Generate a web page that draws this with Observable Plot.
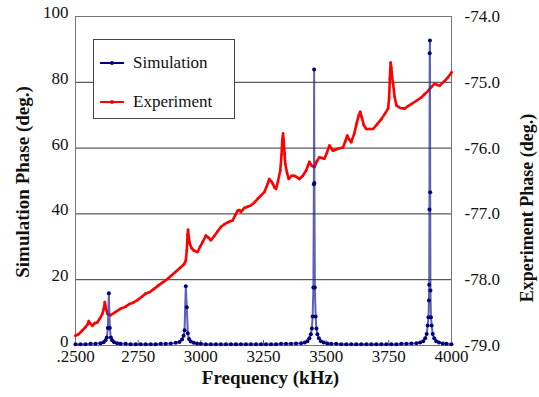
<!DOCTYPE html>
<html><head><meta charset="utf-8">
<script src="https://cdn.jsdelivr.net/npm/d3@7"></script>
<script src="https://cdn.jsdelivr.net/npm/@observablehq/plot@0.6"></script>
<style>
body{margin:0;background:#fff}
#wrap{position:relative;width:539px;height:397px}
#wrap svg text{font-family:"Liberation Serif","Times New Roman",serif}
#legend{position:absolute;left:93px;top:39px;width:140px;height:78px;border:1px solid #444;background:#fff;font-family:"Liberation Serif","Times New Roman",serif;font-size:17px;color:#111}
.row{position:absolute;left:0;height:20px;display:flex;align-items:center}
.row svg{margin-left:6px;margin-right:9px}
</style>
</head><body><div id="wrap"></div>
<script>
// Simulation phase (deg.) vs frequency (kHz): [frequency, phase]
const simulation = [
[2500,0.4],[2520,0.4],[2540,0.4],[2560,0.5],[2580,0.5],[2600,0.7],[2612,1.0],[2620,1.6],[2625,2.4],[2629,5.3],
[2633,15.9],[2637,5.3],[2641,2.4],[2646,1.6],[2654,1.0],[2666,0.7],[2680,0.5],[2700,0.5],[2720,0.4],[2740,0.4],
[2760,0.4],[2780,0.4],[2800,0.4],[2820,0.4],[2840,0.5],[2860,0.5],[2880,0.6],[2900,0.8],[2915,1.1],[2925,1.8],
[2931,3.0],[2935,4.6],[2940,18.0],[2944,11.6],[2948,3.7],[2953,2.0],[2960,1.2],[2972,0.8],[2985,0.6],[3000,0.5],
[3020,0.4],[3040,0.4],[3060,0.4],[3080,0.4],[3100,0.4],[3120,0.4],[3140,0.4],[3160,0.4],[3180,0.4],[3200,0.4],
[3220,0.4],[3240,0.4],[3260,0.4],[3280,0.4],[3300,0.4],[3320,0.5],[3340,0.5],[3360,0.5],[3380,0.6],[3400,0.7],
[3415,0.9],[3425,1.3],[3433,2.2],[3439,3.4],[3443,5.2],[3446,8.8],[3449,17.6],[3451,49.0],[3452,83.9],[3453,49.4],
[3455,17.6],[3458,8.8],[3461,5.2],[3465,3.4],[3471,2.2],[3479,1.3],[3490,0.9],[3505,0.6],[3520,0.5],[3540,0.5],
[3560,0.4],[3580,0.4],[3600,0.4],[3620,0.4],[3640,0.4],[3660,0.4],[3680,0.4],[3700,0.4],[3720,0.4],[3740,0.4],
[3760,0.4],[3780,0.4],[3800,0.5],[3820,0.5],[3840,0.6],[3860,0.7],[3875,0.9],[3887,1.3],[3895,2.2],[3901,3.5],
[3905,6.1],[3908,8.6],[3910,13.7],[3911,18.5],[3912,41.3],[3913,88.8],[3914,92.7],[3915,46.6],[3916,16.7],[3918,8.6],
[3921,6.1],[3925,3.5],[3931,2.2],[3939,1.3],[3950,0.9],[3965,0.6],[3980,0.5],[4000,0.4]
];
// Experiment phase (deg.) vs frequency (kHz): [frequency, phase]
const experiment = [
[2500,-78.85],[2512,-78.83],[2525,-78.78],[2540,-78.72],[2548,-78.68],[2553,-78.63],[2560,-78.67],[2567,-78.70],
[2577,-78.66],[2587,-78.65],[2597,-78.59],[2607,-78.52],[2613,-78.44],[2617,-78.34],[2621,-78.43],[2627,-78.52],
[2640,-78.54],[2660,-78.49],[2680,-78.44],[2700,-78.41],[2715,-78.37],[2730,-78.35],[2747,-78.31],[2765,-78.26],
[2780,-78.21],[2795,-78.19],[2813,-78.14],[2830,-78.09],[2848,-78.04],[2867,-77.99],[2885,-77.93],[2900,-77.88],
[2920,-77.81],[2932,-77.77],[2940,-77.71],[2944,-77.55],[2947,-77.32],[2949,-77.24],[2952,-77.36],[2956,-77.45],
[2963,-77.52],[2973,-77.56],[2987,-77.58],[2997,-77.50],[3008,-77.42],[3020,-77.33],[3030,-77.36],[3040,-77.40],
[3055,-77.33],[3068,-77.26],[3080,-77.20],[3093,-77.16],[3107,-77.13],[3117,-77.11],[3127,-77.10],[3137,-77.02],
[3147,-76.95],[3153,-76.94],[3160,-76.97],[3167,-76.94],[3173,-76.91],[3187,-76.89],[3200,-76.87],[3213,-76.83],
[3227,-76.77],[3240,-76.72],[3253,-76.67],[3263,-76.58],[3273,-76.47],[3280,-76.50],[3287,-76.54],[3294,-76.60],
[3300,-76.62],[3308,-76.50],[3317,-76.34],[3322,-76.10],[3325,-75.88],[3328,-75.78],[3331,-75.90],[3334,-76.08],
[3337,-76.24],[3344,-76.38],[3351,-76.47],[3362,-76.42],[3373,-76.42],[3383,-76.44],[3393,-76.47],[3407,-76.42],
[3420,-76.34],[3427,-76.27],[3433,-76.21],[3443,-76.27],[3453,-76.29],[3463,-76.20],[3473,-76.14],[3483,-76.15],
[3493,-76.16],[3503,-76.07],[3513,-75.96],[3520,-76.00],[3527,-76.04],[3547,-76.01],[3567,-75.99],[3576,-75.90],
[3584,-75.81],[3592,-75.87],[3600,-75.91],[3612,-75.78],[3622,-75.62],[3630,-75.50],[3636,-75.45],[3642,-75.53],
[3650,-75.65],[3660,-75.71],[3673,-75.71],[3687,-75.71],[3703,-75.64],[3720,-75.56],[3734,-75.48],[3747,-75.40],
[3751,-75.25],[3754,-74.95],[3757,-74.70],[3760,-74.78],[3763,-74.92],[3767,-75.02],[3773,-75.22],[3780,-75.35],
[3796,-75.39],[3813,-75.40],[3827,-75.36],[3840,-75.33],[3860,-75.28],[3880,-75.23],[3893,-75.18],[3907,-75.13],
[3920,-75.07],[3933,-75.02],[3943,-75.04],[3953,-75.05],[3970,-74.99],[3987,-74.92],[4000,-74.85]
];
const xTicks = [2500,2750,3000,3250,3500,3750,4000];
const simTicks = [0,20,40,60,80,100];
const expTicks = [-79,-78,-77,-76,-75,-74];
const seriesNames = ["Simulation","Experiment"];
const seriesColors = ["#000080","#ff0000"];

const sim = simulation.map(([f,v]) => ({f, v}));
const exp = experiment.map(([f,v]) => ({f, v}));
// right axis (experiment) mapped onto the left (simulation) scale
const e2s = d3.scaleLinear().domain([expTicks[0], expTicks[expTicks.length-1]]).range([simTicks[0], simTicks[simTicks.length-1]]);

const serif = '"Liberation Serif","Times New Roman",serif';
const chart = Plot.plot({
  width: 539, height: 397,
  marginTop: 16, marginBottom: 52, marginLeft: 75, marginRight: 88,
  style: {fontFamily: serif, fontSize: "17px", color: "#111", background: "#fff"},
  x: {domain: [xTicks[0], xTicks[xTicks.length-1]]},
  y: {domain: [simTicks[0], simTicks[simTicks.length-1]]},
  marks: [
    Plot.gridY(simTicks.slice(1), {stroke: "#333", strokeOpacity: 1, strokeWidth: 1}),
    Plot.frame({stroke: "#777"}),
    Plot.tickX(xTicks.slice(1, -1), {x: d => d, insetTop: 324, stroke: "#666"}),
    Plot.axisX(xTicks, {tickSize: 0, tickPadding: 4, label: null, tickFormat: d => d === 2500 ? ".2500" : String(d)}),
    Plot.axisY(simTicks, {anchor: "left", tickSize: 0, tickPadding: 7, dy: -4, label: null}),
    Plot.axisY(expTicks.map(e2s), {anchor: "right", tickSize: 0, tickPadding: 13, label: null, tickFormat: d => e2s.invert(d).toFixed(1)}),
    Plot.line(exp, {x: "f", y: d => e2s(d.v), stroke: seriesColors[1], strokeWidth: 2.6}),
    Plot.dot(exp, {x: "f", y: d => e2s(d.v), r: 1.3, fill: seriesColors[1], stroke: "none"}),
    Plot.line(sim, {x: "f", y: "v", stroke: "#2b2b9c", strokeWidth: 2, strokeOpacity: 0.75}),
    Plot.dot(sim, {x: "f", y: "v", r: 2, fill: seriesColors[0], stroke: "none"}),
    Plot.text(["Simulation Phase (deg.)"], {text: d => d, frameAnchor: "left", textAnchor: "middle", dx: -53, dy: 1, rotate: -90, fontWeight: "bold", fontSize: 19}),
    Plot.text(["Experiment Phase (deg.)"], {text: d => d, frameAnchor: "right", textAnchor: "middle", dx: 76, dy: 27, rotate: -90, fontWeight: "bold", fontSize: 18}),
    Plot.text(["Frequency (kHz)"], {text: d => d, frameAnchor: "bottom", dx: 7, dy: 38, fontWeight: "bold", fontSize: 19})
  ]
});
const wrap = document.getElementById("wrap");
wrap.appendChild(chart);

const legend = document.createElement("div");
legend.id = "legend";
seriesNames.forEach((name, i) => {
  const row = document.createElement("div");
  row.className = "row";
  row.style.top = (i === 0 ? 13 : 52) + "px";
  row.innerHTML = `<svg width="24" height="8"><line x1="0" y1="4" x2="24" y2="4" stroke="${seriesColors[i]}" stroke-width="2"/><circle cx="12" cy="4" r="2" fill="${seriesColors[i]}"/></svg><span>${name}</span>`;
  legend.appendChild(row);
});
wrap.appendChild(legend);
</script>
</body></html>
